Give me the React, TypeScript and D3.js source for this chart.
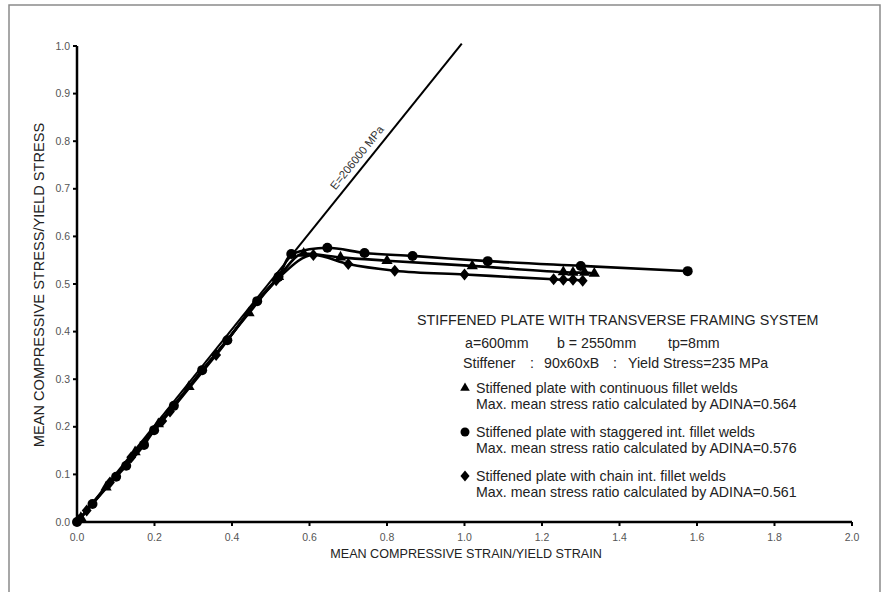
import React from "react";
import * as d3 from "d3";

const xTicks = [0, 0.2, 0.4, 0.6, 0.8, 1.0, 1.2, 1.4, 1.6, 1.8, 2.0];
const yTicks = [0, 0.1, 0.2, 0.3, 0.4, 0.5, 0.6, 0.7, 0.8, 0.9, 1.0];

// Elastic line E=206000 MPa
const eStrain = [0, 0.993];
const eStress = [0, 1.005];

// Continuous fillet welds (triangles)
const contStrain = [0.01, 0.075, 0.15, 0.21, 0.289, 0.444, 0.52, 0.585, 0.68, 0.8, 1.02, 1.255, 1.28, 1.31, 1.335];
const contStress = [0.009, 0.073, 0.147, 0.206, 0.284, 0.439, 0.515, 0.564, 0.556, 0.549, 0.538, 0.525, 0.524, 0.524, 0.522];

// Staggered int. fillet welds (circles)
const stagStrain = [0.0, 0.04, 0.101, 0.127, 0.173, 0.199, 0.25, 0.323, 0.388, 0.465, 0.52, 0.553, 0.646, 0.742, 0.866, 1.06, 1.3, 1.576];
const stagStress = [0.0, 0.038, 0.095, 0.118, 0.162, 0.193, 0.244, 0.319, 0.382, 0.464, 0.515, 0.563, 0.576, 0.565, 0.559, 0.548, 0.538, 0.527];

// Chain int. fillet welds (diamonds)
const chainStrain = [0.005, 0.025, 0.085, 0.14, 0.22, 0.24, 0.359, 0.514, 0.61, 0.7, 0.82, 1.0, 1.23, 1.255, 1.28, 1.305];
const chainStress = [0.004, 0.024, 0.083, 0.136, 0.212, 0.232, 0.351, 0.508, 0.561, 0.542, 0.528, 0.52, 0.51, 0.509, 0.509, 0.507];

const W = 882;
const H = 592;

const wideDiamond = {
  draw(context: any, size: number) {
    const h = Math.sqrt(size / 1.6);
    const w = h * 0.82;
    context.moveTo(0, -h);
    context.lineTo(w, 0);
    context.lineTo(0, h);
    context.lineTo(-w, 0);
    context.closePath();
  },
};

export default function App() {
  const x = d3.scaleLinear().domain([0, 2]).range([77, 852]);
  const y = d3.scaleLinear().domain([0, 1]).range([522, 46]);

  const line = d3
    .line<[number, number]>()
    .x((d) => x(d[0]))
    .y((d) => y(d[1]));

  const zip = (a: number[], b: number[]) => a.map((v, i) => [v, b[i]] as [number, number]);
  const cont = zip(contStrain, contStress);
  const stag = zip(stagStrain, stagStress);
  const chain = zip(chainStrain, chainStress);
  const eLine = zip(eStrain, eStress);

  const tri = d3.symbol(d3.symbolTriangle, 55)() as string;
  const dia = d3.symbol(wideDiamond as any, 58)() as string;

  const ex0 = x(eStrain[0]), ey0 = y(eStress[0]), ex1 = x(eStrain[1]), ey1 = y(eStress[1]);
  const angle = (Math.atan2(ey1 - ey0, ex1 - ex0) * 180) / Math.PI;

  const font = "Arial, 'Liberation Sans', sans-serif";
  const legX = 465;
  const txtX = 476;

  return (
    <svg
      width={W}
      height={H}
      style={{ position: "absolute", left: 0, top: 0, background: "#fff" }}
      fontFamily={font}
    >
      <rect x={9} y={5} width={871} height={600} fill="#fff" stroke="#8a8a8a" strokeWidth={1.5} />

      {/* axes */}
      <line x1={x(0)} x2={x(0)} y1={y(1)} y2={y(0) + 1} stroke="#000" strokeWidth={2.5} />
      <line x1={x(0) - 1} x2={x(2)} y1={y(0)} y2={y(0)} stroke="#000" strokeWidth={2.5} />
      {yTicks.map((t) => (
        <g key={"y" + t}>
          <line x1={x(0) - 4} x2={x(0)} y1={y(t)} y2={y(t)} stroke="#000" strokeWidth={2} />
          <text x={x(0) - 7} y={y(t)} dy="0.35em" textAnchor="end" fontSize={10.5} fill="#555">
            {t.toFixed(1)}
          </text>
        </g>
      ))}
      {xTicks.map((t) => (
        <g key={"x" + t}>
          <line x1={x(t)} x2={x(t)} y1={y(0)} y2={y(0) + 4} stroke="#000" strokeWidth={2} />
          <text x={x(t)} y={y(0) + 19} textAnchor="middle" fontSize={10.5} fill="#555">
            {t.toFixed(1)}
          </text>
        </g>
      ))}
      <text x={466} y={558} textAnchor="middle" fontSize={12.6} fill="#222">
        MEAN COMPRESSIVE STRAIN/YIELD STRAIN
      </text>
      <text
        transform={`translate(44,285) rotate(-90)`}
        textAnchor="middle"
        fontSize={14.6}
        fill="#222"
      >
        MEAN COMPRESSIVE STRESS/YIELD STRESS
      </text>

      {/* E line */}
      <path d={line.curve(d3.curveLinear)(eLine) as string} fill="none" stroke="#000" strokeWidth={2} />
      <text
        transform={`translate(360,160) rotate(${angle})`}
        textAnchor="middle"
        fontSize={11.3}
        fill="#333"
      >
        E=206000 MPa
      </text>

      {/* series lines */}
      {[cont, stag, chain].map((s, i) => (
        <path
          key={"l" + i}
          d={line.curve(d3.curveMonotoneX)(s) as string}
          fill="none"
          stroke="#000"
          strokeWidth={2.6}
        />
      ))}
      {cont.map((d, i) => (
        <path key={"t" + i} d={tri} transform={`translate(${x(d[0])},${y(d[1])})`} fill="#000" />
      ))}
      {stag.map((d, i) => (
        <circle key={"c" + i} cx={x(d[0])} cy={y(d[1])} r={5} fill="#000" />
      ))}
      {chain.map((d, i) => (
        <path key={"d" + i} d={dia} transform={`translate(${x(d[0])},${y(d[1])})`} fill="#000" />
      ))}

      {/* legend block */}
      <g fontSize={14.2} fill="#222">
        <text x={417} y={325} fontSize={14.3}>STIFFENED PLATE WITH TRANSVERSE FRAMING SYSTEM</text>
        <text x={465} y={348}>a=600mm</text>
        <text x={557} y={348}>b = 2550mm</text>
        <text x={668} y={348}>tp=8mm</text>
        <text x={463} y={368}>Stiffener</text>
        <text x={530} y={368}>:</text>
        <text x={544} y={368}>90x60xB</text>
        <text x={613} y={368}>:</text>
        <text x={628} y={368}>Yield Stress=235 MPa</text>

        <path d={d3.symbol(d3.symbolTriangle, 40)() as string} transform={`translate(${legX},${388})`} fill="#000" />
        <text x={txtX} y={393}>Stiffened plate with continuous fillet welds</text>
        <text x={txtX} y={409}>Max. mean stress ratio calculated by ADINA=0.564</text>

        <circle cx={legX} cy={432} r={4.5} fill="#000" />
        <text x={txtX} y={437}>Stiffened plate with staggered int. fillet welds</text>
        <text x={txtX} y={453}>Max. mean stress ratio calculated by ADINA=0.576</text>

        <path d={d3.symbol(wideDiamond as any, 50)() as string} transform={`translate(${legX},${476})`} fill="#000" />
        <text x={txtX} y={481}>Stiffened plate with chain int. fillet welds</text>
        <text x={txtX} y={497}>Max. mean stress ratio calculated by ADINA=0.561</text>
      </g>
    </svg>
  );
}
